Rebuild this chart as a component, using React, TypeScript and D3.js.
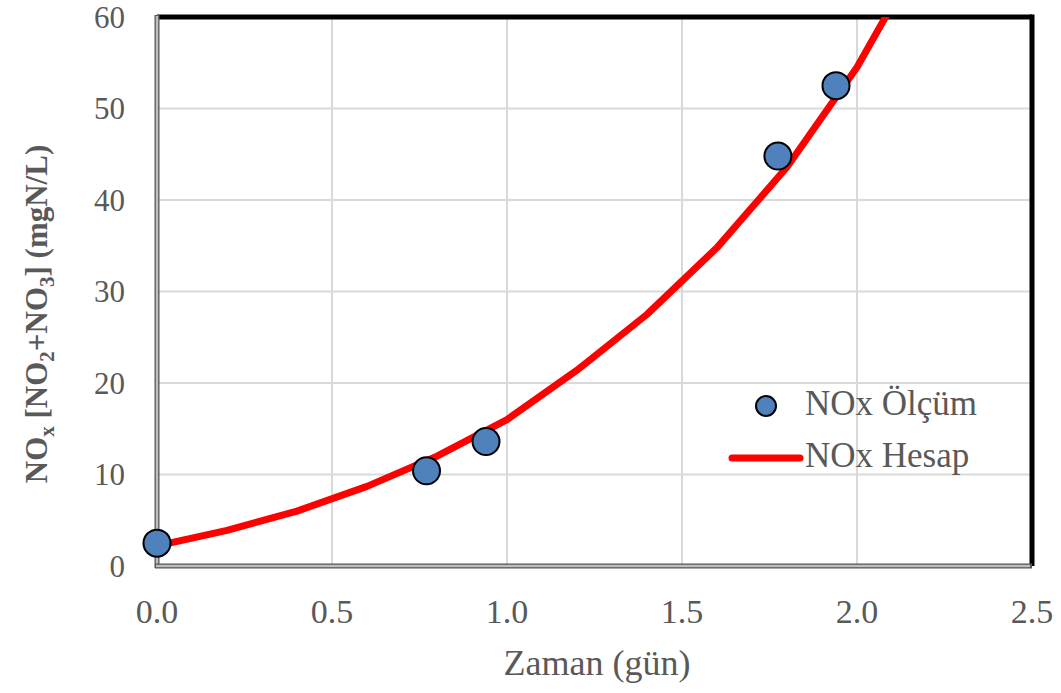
import React from "react";
import * as d3 from "d3";

// measured points (NOx Ölçüm)
const measDays = [0, 0.77, 0.94, 1.774, 1.94];
const measNox = [2.5, 10.4, 13.6, 44.8, 52.5];

// model curve (NOx Hesap)
const calcDays = [0, 0.2, 0.4, 0.6, 0.8, 1.0, 1.2, 1.4, 1.6, 1.8, 2.0, 2.2];
const calcNox = [2.2, 3.9, 6.0, 8.7, 12.0, 16.0, 21.4, 27.5, 34.8, 43.6, 54.5, 68];

const xTicks = [0, 0.5, 1.0, 1.5, 2.0, 2.5];
const yTicks = [0, 10, 20, 30, 40, 50, 60];

const W = 1061;
const H = 693;
const margin = { top: 17, right: 29, bottom: 127, left: 157 };

const App = () => {
  const iw = W - margin.left - margin.right;
  const ih = H - margin.top - margin.bottom;
  const x = d3.scaleLinear().domain([0, 2.5]).range([0, iw]);
  const y = d3.scaleLinear().domain([0, 60]).range([ih, 0]);

  const line = d3
    .line<number>()
    .x((_, i) => x(calcDays[i]))
    .y((d) => y(d));

  const font = "'Liberation Serif', 'Times New Roman', serif";
  const textColor = "#595959";

  return (
    <svg
      width={W}
      height={H}
      style={{ position: "absolute", left: 0, top: 0, background: "#fff" }}
      fontFamily={font}
    >
      <defs>
        <clipPath id="plot">
          <rect x={0} y={0} width={iw} height={ih} />
        </clipPath>
      </defs>
      <g transform={`translate(${margin.left},${margin.top})`}>
        {/* grid */}
        {xTicks.slice(1, -1).map((t) => (
          <line key={"gx" + t} x1={x(t)} x2={x(t)} y1={0} y2={ih} stroke="#d9d9d9" strokeWidth={2} />
        ))}
        {yTicks.slice(1, -1).map((t) => (
          <line key={"gy" + t} x1={0} x2={iw} y1={y(t)} y2={y(t)} stroke="#d9d9d9" strokeWidth={2} />
        ))}

        {/* frame: top & right black, left & bottom gray axis */}
        <line x1={0} x2={iw} y1={0} y2={0} stroke="#000" strokeWidth={5} />
        <line x1={iw} x2={iw} y1={-2.5} y2={ih} stroke="#000" strokeWidth={5} />
        <line x1={0} x2={0} y1={-2} y2={ih + 2} stroke="#555" strokeWidth={5} />
        <line x1={0} x2={0} y1={-1} y2={ih + 1} stroke="#bfbfbf" strokeWidth={2.5} />
        <line x1={-2} x2={iw} y1={ih} y2={ih} stroke="#555" strokeWidth={5} />
        <line x1={-1} x2={iw - 2} y1={ih} y2={ih} stroke="#bfbfbf" strokeWidth={2.5} />

        {/* model line */}
        <g clipPath="url(#plot)">
          <path d={line(calcNox) || ""} fill="none" stroke="#ff0000" strokeWidth={7} strokeLinejoin="round" />
        </g>

        {/* measured points */}
        {measNox.map((v, i) => (
          <circle key={i} cx={x(measDays[i])} cy={y(v)} r={13.5} fill="#4f81bd" stroke="#000" strokeWidth={2} />
        ))}

        {/* y ticks */}
        {yTicks.map((t) => (
          <text key={"ty" + t} x={-32} y={y(t)} dy="0.35em" textAnchor="end" fontSize={31} fill={textColor}>
            {t}
          </text>
        ))}
        {/* x ticks */}
        {xTicks.map((t) => (
          <text key={"tx" + t} x={x(t)} y={ih + 57} textAnchor="middle" fontSize={34} fill={textColor}>
            {t.toFixed(1)}
          </text>
        ))}

        {/* legend */}
        <circle cx={609} cy={389} r={10} fill="#4f81bd" stroke="#000" strokeWidth={2} />
        <text x={648} y={398} fontSize={35} fill={textColor}>
          NOx Ölçüm
        </text>
        <line x1={575} x2={643} y1={441} y2={441} stroke="#ff0000" strokeWidth={7} strokeLinecap="round" />
        <text x={648} y={450} fontSize={35} fill={textColor}>
          NOx Hesap
        </text>
      </g>

      {/* axis titles */}
      <text x={597} y={675} textAnchor="middle" fontSize={36} fill={textColor}>
        Zaman (gün)
      </text>
      <text
        transform={`translate(47,${314}) rotate(-90)`}
        textAnchor="middle"
        fontSize={31}
        fontWeight="bold"
        fill={textColor}
      >
        NO<tspan fontSize={21} dy={7}>x</tspan>
        <tspan dy={-7}> [NO</tspan>
        <tspan fontSize={21} dy={7}>2</tspan>
        <tspan dy={-7}>+NO</tspan>
        <tspan fontSize={21} dy={7}>3</tspan>
        <tspan dy={-7}>] (mgN/L)</tspan>
      </text>
    </svg>
  );
};

export default App;
